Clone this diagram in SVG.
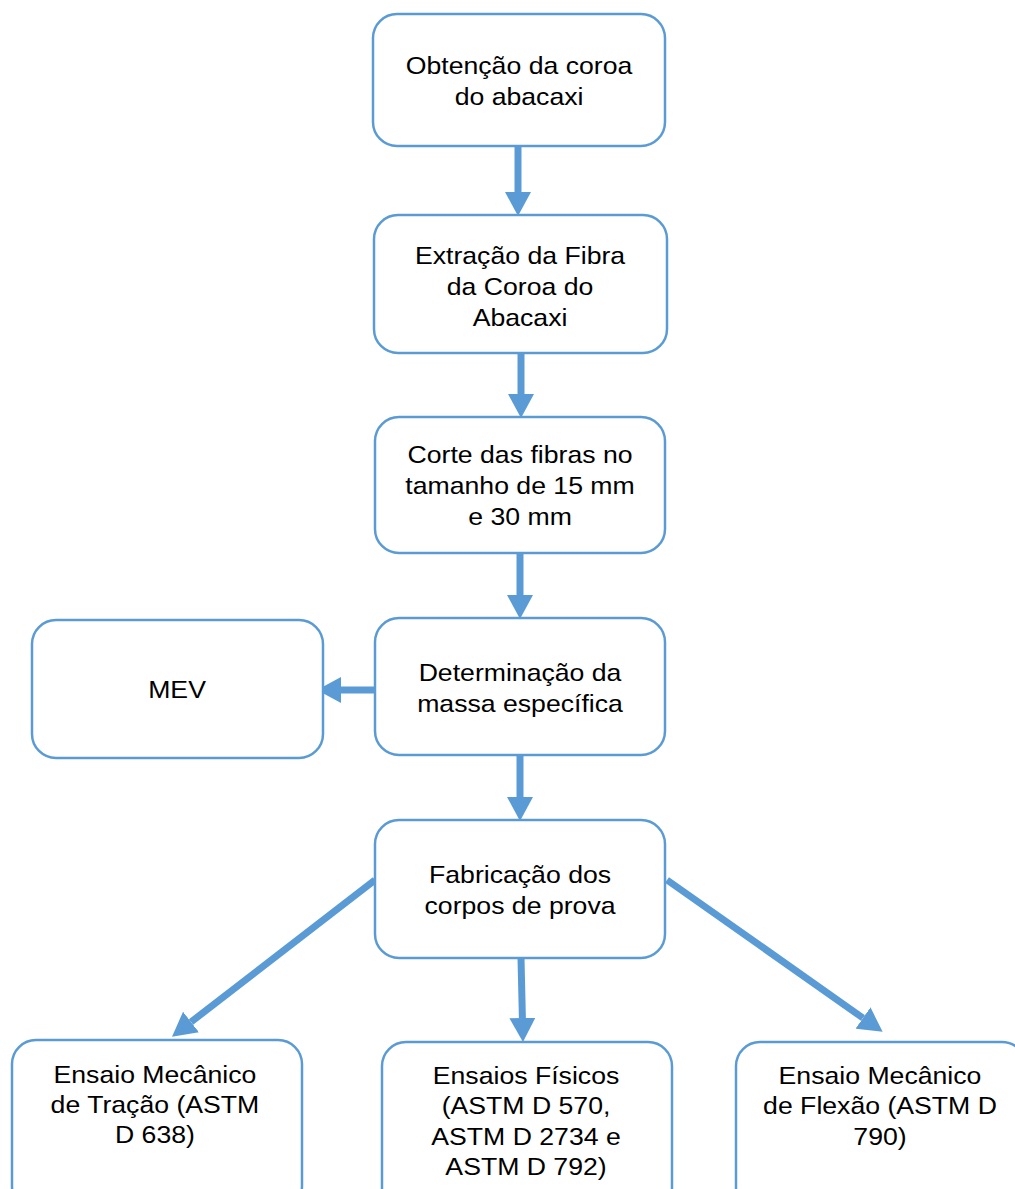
<svg xmlns="http://www.w3.org/2000/svg" width="1015" height="1189" viewBox="0 0 1015 1189">
<defs>
<style>
.box{fill:#fff;stroke:#5B9BD5;stroke-width:2.5}
.t{font-family:"Liberation Sans",Arial,sans-serif;font-size:24px;fill:#000;text-anchor:middle}
.c{stroke:#5B9BD5;stroke-width:7;fill:none}
</style>
<marker id="ah" markerUnits="userSpaceOnUse" markerWidth="24" markerHeight="26" viewBox="0 0 24 26" refX="0" refY="13" orient="auto">
<path d="M0,0 L24,13 L0,26 z" fill="#5B9BD5"/>
</marker>
</defs>
<rect width="1015" height="1189" fill="#fff"/>
<g id="connectors">
<line class="c" x1="518" y1="146" x2="518" y2="192" marker-end="url(#ah)"/>
<line class="c" x1="521" y1="353" x2="521" y2="394" marker-end="url(#ah)"/>
<line class="c" x1="520" y1="553" x2="520" y2="595" marker-end="url(#ah)"/>
<line class="c" x1="375" y1="690" x2="341" y2="690" marker-end="url(#ah)"/>
<line class="c" x1="520" y1="755" x2="520" y2="797" marker-end="url(#ah)"/>
<line class="c" x1="521" y1="958" x2="522.4" y2="1018" marker-end="url(#ah)"/>
<line class="c" x1="375" y1="880" x2="191" y2="1022" marker-end="url(#ah)"/>
<line class="c" x1="667" y1="880" x2="863" y2="1018" marker-end="url(#ah)"/>
</g>
<g id="n1">
<rect class="box" x="373" y="14" width="292" height="132" rx="24"/>
<text class="t" transform="scale(1.11 1)" x="467.6" y="74">Obtenção da coroa</text>
<text class="t" transform="scale(1.11 1)" x="467.6" y="105">do abacaxi</text>
</g>
<g id="n2">
<rect class="box" x="374" y="215" width="293" height="138" rx="24"/>
<text class="t" transform="scale(1.11 1)" x="468.5" y="264">Extração da Fibra</text>
<text class="t" transform="scale(1.11 1)" x="468.5" y="295">da Coroa do</text>
<text class="t" transform="scale(1.11 1)" x="468.5" y="326">Abacaxi</text>
</g>
<g id="n3">
<rect class="box" x="375" y="417" width="290" height="136" rx="24"/>
<text class="t" transform="scale(1.11 1)" x="468.5" y="463">Corte das fibras no</text>
<text class="t" transform="scale(1.11 1)" x="468.5" y="494">tamanho de 15 mm</text>
<text class="t" transform="scale(1.11 1)" x="468.5" y="525">e 30 mm</text>
</g>
<g id="n4">
<rect class="box" x="375" y="618" width="290" height="137" rx="24"/>
<text class="t" transform="scale(1.11 1)" x="468.5" y="681">Determinação da</text>
<text class="t" transform="scale(1.11 1)" x="468.5" y="712">massa específica</text>
</g>
<g id="mev">
<rect class="box" x="32" y="620" width="291" height="138" rx="24"/>
<text class="t" transform="scale(1.11 1)" x="159.5" y="698">MEV</text>
</g>
<g id="n5">
<rect class="box" x="375" y="820" width="290" height="138" rx="24"/>
<text class="t" transform="scale(1.11 1)" x="468.5" y="883">Fabricação dos</text>
<text class="t" transform="scale(1.11 1)" x="468.5" y="914">corpos de prova</text>
</g>
<g id="n6">
<rect class="box" x="12" y="1040" width="290" height="170" rx="24"/>
<text class="t" transform="scale(1.11 1)" x="139.6" y="1083">Ensaio Mecânico</text>
<text class="t" transform="scale(1.11 1)" x="139.6" y="1113">de Tração (ASTM</text>
<text class="t" transform="scale(1.11 1)" x="139.6" y="1143">D 638)</text>
</g>
<g id="n7">
<rect class="box" x="382" y="1042" width="290" height="170" rx="24"/>
<text class="t" transform="scale(1.11 1)" x="473.9" y="1084">Ensaios Físicos</text>
<text class="t" transform="scale(1.11 1)" x="473.9" y="1114">(ASTM D 570,</text>
<text class="t" transform="scale(1.11 1)" x="473.9" y="1145">ASTM D 2734 e</text>
<text class="t" transform="scale(1.11 1)" x="473.9" y="1175">ASTM D 792)</text>
</g>
<g id="n8">
<rect class="box" x="736" y="1042" width="290" height="170" rx="24"/>
<text class="t" transform="scale(1.11 1)" x="792.8" y="1084">Ensaio Mecânico</text>
<text class="t" transform="scale(1.11 1)" x="792.8" y="1114">de Flexão (ASTM D</text>
<text class="t" transform="scale(1.11 1)" x="792.8" y="1145">790)</text>
</g>
</svg>
